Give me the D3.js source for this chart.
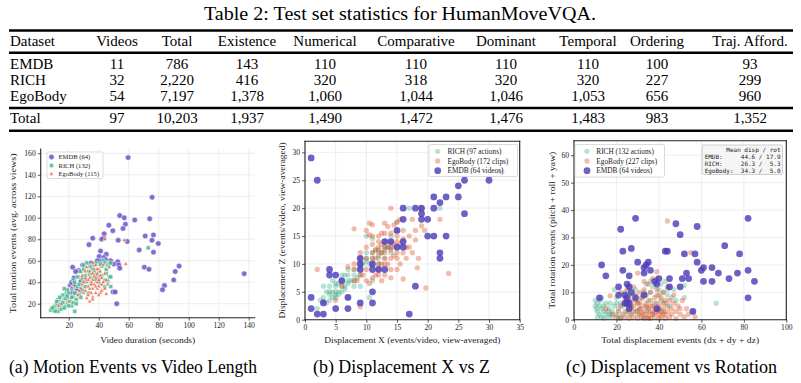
<!DOCTYPE html>
<html>
<head>
<meta charset="utf-8">
<script src="https://cdn.jsdelivr.net/npm/d3@7"></script>
<style>
body { margin: 0; background: #fff; }
svg { display: block; }
</style>
</head>
<body>
<div id="figura"></div>
<script>
// ---- tabla ----
let tituloTabla = "Table 2: Test set statistics for HumanMoveVQA.";
let columnas = ["Dataset", "Videos", "Total", "Existence", "Numerical", "Comparative", "Dominant", "Temporal", "Ordering", "Traj. Afford."];
let filas = [
    ["EMDB", "11", "786", "143", "110", "110", "110", "110", "100", "93"],
    ["RICH", "32", "2,220", "416", "320", "318", "320", "320", "227", "299"],
    ["EgoBody", "54", "7,197", "1,378", "1,060", "1,044", "1,046", "1,053", "656", "960"]
];
let filaTotal = ["Total", "97", "10,203", "1,937", "1,490", "1,472", "1,476", "1,483", "983", "1,352"];

// ---- panel (a) ----
let aTicksX = [20, 40, 60, 80, 100, 120, 140];
let aTicksY = [20, 40, 60, 80, 100, 120, 140, 160];
let aEmdb = [[59.6,156],[75.6,119],[54,102],[57,100],[64,98],[74,99],[46.7,93],[57.8,94],[56.2,90],[49.4,88],[76.5,84],[43.6,85],[36,81],[43.3,81],[42,80],[71,83],[75.5,79],[53,79],[59,78],[79.7,76],[33.5,75],[67,70],[76.5,68],[41.2,69],[40.3,64],[45,66],[43.4,63],[41.2,60],[44.5,61],[52.7,59],[50,57],[53.4,56],[54,53],[29.3,56],[22.6,54],[26.8,51],[24.6,50],[30.4,42],[28.2,41],[39.7,43],[70.4,54],[73.5,52],[93.6,55],[91,50],[90,42],[83.8,37],[82.5,33],[137,48],[21,37],[24.2,37],[22.6,33.5],[25.3,32],[28.2,32],[22,30],[49.6,31],[51,31],[52,20],[22,40],[19,31],[26,33],[39,60],[48,60],[23.5,44],[35,58]];
let aRich = [[8,14],[10,14],[12,15],[13,13],[11,18],[12,20],[14,17],[15,22],[13,24],[16,19],[17,25],[18,18],[19,21],[20,24],[21,20],[22,18],[18,28],[20,30],[23,27],[24,13],[22,34],[25,30],[26,36],[28,35],[19,33],[17,34],[23,42],[24,40],[27,38],[29,44],[30,40],[31,46],[33,50],[34,55],[35,54],[36,52],[37,56],[38,58],[40,50],[42,55],[43,60],[44,58],[45,52],[46,56],[47,45],[48,36],[44,36],[41,38],[39,47],[32,42],[28,50],[30,56],[26,45],[16,28],[14,26],[10,17],[9,16],[15,15],[16,21],[21,22],[20,18],[12,22],[18,25],[22,26],[24,30],[25,24],[27,28],[29,33],[31,36],[33,30],[35,38],[36,44],[38,42],[40,40],[42,46],[37,50],[34,47],[45,48],[46,41],[47,57],[48,58],[28,26],[19,27],[14,19],[11,13],[17,16],[23,21],[25,20],[30,52],[32,58],[38,47],[41,57],[44,42],[73,72],[48,45]];
let aEgo = [[28,34],[29,38],[30,30],[31,32],[32,25],[32,40],[33,36],[33,28],[34,22],[34,44],[35,30],[35,38],[35,48],[36,26],[36,42],[36,34],[37,52],[37,46],[37,38],[38,30],[38,44],[38,56],[39,40],[39,34],[39,48],[40,36],[40,42],[40,52],[41,30],[41,46],[42,38],[42,44],[43,40],[43,56],[44,34],[44,48],[45,42],[45,29],[46,38],[34,50],[33,42],[31,44],[30,40],[27,32],[26,28],[29,46],[31,50],[32,54],[36,58],[38,36],[40,28],[42,32],[36,24],[34,34],[44,80],[57,79],[58,57],[47,54],[15,20],[13,18],[20,22],[22,35],[35,40],[36,48],[39,52],[41,50]];

// ---- panel (b) ----
let bTicks = [0, 5, 10, 15, 20, 25, 30, 35];
let bTicksY = [0, 5, 10, 15, 20, 25, 30];
let bEmdb = [[1,29],[2,25],[1,4],[1,2],[2,1],[3,1],[4,9],[4,8],[5,8],[3,3],[5,2],[6,7],[7,4],[7,2],[9,11],[9,10],[9,9],[9,3],[11,10],[11,9],[11,5],[11,3],[12,9],[13,9],[13,14],[14,14],[15,16],[15,13],[16,20],[16,18],[16,14],[16,13],[17,1],[18,20],[18,6],[19,20],[19,19],[19,18],[20,18],[20,15],[21,22],[21,20],[21,15],[22,21],[22,12],[22,11],[23,22],[23,15],[25,24],[25,22],[26,25],[26,19],[30,25],[32,26.5]];
let bRich = [[3,4],[3,6],[3.5,5],[4,3.5],[4,4.5],[4,6],[4.5,5],[4.5,7],[5,4],[5,4.5],[5,5],[5.5,4.5],[5,6],[5.5,5],[5.5,6.5],[6,5],[6,6],[6,7],[6.5,6],[6.5,8],[7,6.5],[7,7],[7,8],[7.5,7],[8,6],[8,8],[8,9],[8.5,7.5],[9,8],[9,9],[9.5,10],[10,10.5],[10,11],[10,12],[10.5,10],[11,11],[11,12],[11.5,12.5],[12,11],[12,12],[12.5,12],[13,12.5],[13,13],[13.5,13],[14,13],[14,15],[15,13],[15,17.5],[10,15],[11,14.5],[17,20],[22,20],[10.5,4],[11,7],[2,2],[2.5,3.5],[3,3.2],[3.5,3],[4,5],[4.5,4],[6,8],[7,9],[8,7],[9,6],[12,10],[13,11],[14,12],[6.5,5.5],[5,6.5]];
let bEgo = [[2,9],[5,3.5],[7,9.5],[8,16.3],[8,7],[8.5,7],[9,2.3],[9,8],[9,12],[9.5,8],[10,16],[10,7],[10,11],[10.5,17.3],[10.5,15.2],[10.5,6.5],[11,7.5],[11,10],[11,12],[11,13.5],[11,15],[11,17],[11.5,8],[11.5,11],[11.5,12.5],[12,8],[12,10],[12,11.5],[12,12.5],[12,14],[12,15],[12.5,7],[12.5,10],[12.5,12],[12.5,13.5],[12.5,15.5],[13,8],[13,11],[13,12],[13,14],[13,15.5],[13,17.3],[13.5,10],[13.5,13],[13.5,16.7],[14,7.5],[14,9],[14,11],[14,12.5],[14,14],[14,15.5],[14,20],[14.5,11.5],[14.5,13.5],[14.5,17],[15,9],[15,11],[15,12],[15,14],[15,16],[15,17.5],[15.5,10],[15.5,13.5],[15.5,18],[16,12],[16,14.5],[16,7.3],[16.5,13],[16.5,11],[17,13],[17.5,12],[17.5,18],[18,14.3],[18,16],[18.3,9.3],[18.5,11],[19,16.8],[19,20],[19.5,16],[19.7,5.7],[22,18],[23.4,8.3],[7,4],[6,6],[8,9],[9,10],[10,9],[11,11],[12,9],[13,10],[14,13],[16,16],[17,15],[15,15],[12,13],[13,13],[10,13],[9,11],[8,10]];

// ---- panel (c) ----
let cTicksX = [0, 20, 40, 60, 80, 100];
let cTicksY = [0, 10, 20, 30, 40, 50, 60];
let cEmdb = [[29,37],[48,35],[58,34],[82,37],[22,33],[50,31],[71,27],[27,26],[23,25],[43,25],[44,25],[52,24],[57,24],[78,24],[13,20],[30,21],[35,21],[34,20],[33,19],[58,21],[61,19],[65,19],[60,18],[36,18],[15,16],[23,18],[26,16],[33,17],[53,17],[68,17],[77,17],[82,18],[51,15],[54,15],[73,15],[40,15],[45,15],[61,14],[65,14],[85,14],[38,14],[39,13],[25,13],[21,12],[26,12],[45,12],[50,12],[27,10],[12,8],[25,8],[29,8],[24,9],[21,9],[33,9],[25,6],[26,6],[24,6],[82,8],[39,4],[56,3],[26,4]];
let cRich = [[10,7],[10,5],[10.5,4],[11,6],[11,3],[12,5],[12,2],[12.5,7],[13,4],[13,1],[14,3],[14,5],[15,2],[15,6],[16,3],[16,1],[16.5,4],[17,2],[18,1],[18,3],[19,5],[20,2],[20,8],[21,4],[22,1],[22,6],[24,3],[24,10],[25,7],[26,2],[26,12],[27,5],[28,3],[28,9],[29,11],[30,6],[30,2],[31,4],[32,8],[33,1],[33,10],[34,5],[35,3],[35,7],[36,10],[37,2],[37,12],[38,6],[39,15],[39,9],[40,4],[40,11],[41,7],[41,13],[42,3],[42,10],[43,6],[43,14],[44,9],[45,5],[45,12],[46,8],[47,11],[48,7],[52,8],[52,12.5],[67,6],[19,11],[20,6],[23,5],[13,8],[17,6],[11,1],[14,0.5],[21,0.5],[34,13],[36,14],[44,11]];
let cEgo = [[15,4],[17,8.7],[18,2],[20,1],[21,3],[22,5],[22,0.5],[23,2],[24,6],[24,1],[25,3],[25,11],[26,4],[26,0.5],[27,2],[27,7],[28,5],[28,1],[29,3],[29,9],[30,0.5],[30,6],[30,17],[31,2],[31,4],[32,1],[32,8],[32,5],[33,3],[33,0.5],[33,11],[34,2],[34,6],[34,9],[35,4],[35,1],[35,13],[36,3],[36,7],[36,0.5],[37,2],[37,5],[37,15],[38,1],[38,8],[38,4],[39,3],[39,6],[39,17.5],[39,11],[40,0.5],[40,2],[40,5],[41,3],[41,8],[41,1],[42,4],[42,6],[42,10],[43,2],[43,0.5],[44,3],[44,5],[44,12],[44,36],[45,1],[45,7],[46,4],[46,2],[47,9],[48,3],[48,0.5],[49,5],[50,2],[51,7],[52,1],[53,4],[54,2],[55,24.5],[56,3],[57,1],[28,12],[26,9],[24,8],[22,10],[31,10],[33,14],[36,10],[40,9],[43,7],[47,6],[50,4],[30,3.5],[32,2.5],[34,4.5],[36,5],[38,2.5],[40,3.5],[42,2],[35,0.5],[29,7],[27,4.5],[31,6.5]];
let cStats = ["Mean disp / rot", "EMDB:     44.6 / 17.9", "RICH:     26.3 /  5.3", "EgoBody:  34.3 /  5.0"];

let leyendaA = ["EMDB (64)", "RICH (132)", "EgoBody (115)"];
let leyendaB = ["RICH (97 actions)", "EgoBody (172 clips)", "EMDB (64 videos)"];
let leyendaC = ["RICH (132 actions)", "EgoBody (227 clips)", "EMDB (64 videos)"];
let subtitulos = ["(a) Motion Events vs Video Length", "(b) Displacement X vs Z", "(c) Displacement vs Rotation"];

const serif = "Liberation Serif";

let svg = d3.select("#figura")
    .append("svg")
    .attr("width", 801)
    .attr("height", 383)
    .attr("font-family", serif);

// ---------- tabla ----------
let colCentro = [10, 117, 177, 247, 325, 416, 506, 588, 657, 750];

svg.append("text")
    .attr("x", 400).attr("y", 19.5)
    .attr("text-anchor", "middle")
    .attr("font-size", 18)
    .attr("textLength", 392).attr("lengthAdjust", "spacingAndGlyphs")
    .text(tituloTabla);

[30.5, 52.8, 108, 130.8].forEach(function (yy) {
    svg.append("line")
        .attr("x1", 9).attr("x2", 793)
        .attr("y1", yy).attr("y2", yy)
        .attr("stroke", "#000")
        .attr("stroke-width", 2.4);
});

function filaTexto(datos, yy) {
    svg.append("g")
        .selectAll("text")
        .data(datos)
        .enter()
        .append("text")
        .attr("x", (d, i) => colCentro[i])
        .attr("y", yy)
        .attr("text-anchor", (d, i) => i === 0 ? "start" : "middle")
        .attr("font-size", 15)
        .text(d => d);
}
filaTexto(columnas, 46);
filas.forEach((f, i) => filaTexto(f, 68.5 + i * 16));
filaTexto(filaTotal, 122.5);

// ---------- paneles ----------
function panel(cfg) {
    let x = d3.scaleLinear().domain(cfg.xd).range(cfg.xr);
    let y = d3.scaleLinear().domain(cfg.yd).range(cfg.yr);
    let g = svg.append("g");

    g.append("g").selectAll("line").data(cfg.xt).enter().append("line")
        .attr("x1", d => x(d)).attr("x2", d => x(d))
        .attr("y1", cfg.yr[0]).attr("y2", cfg.yr[1])
        .attr("stroke", "#e6e6e6").attr("stroke-width", 0.7);
    g.append("g").selectAll("line").data(cfg.yt).enter().append("line")
        .attr("y1", d => y(d)).attr("y2", d => y(d))
        .attr("x1", cfg.xr[0]).attr("x2", cfg.xr[1])
        .attr("stroke", "#e6e6e6").attr("stroke-width", 0.7);

    cfg.series.forEach(function (s) {
        let sym = d3.symbol().type(s.forma).size(s.tam);
        g.append("g").selectAll("path").data(s.datos).enter().append("path")
            .attr("d", sym)
            .attr("transform", d => "translate(" + x(d[0]) + "," + y(d[1]) + ")")
            .attr("fill", s.color)
            .attr("fill-opacity", s.alfa)
            .attr("stroke", s.borde || "none")
            .attr("stroke-width", s.borde ? 0.5 : 0);
    });

    let ax = g.append("g")
        .attr("transform", "translate(0," + cfg.yr[0] + ")")
        .call(d3.axisBottom(x).tickValues(cfg.xt).tickSize(3).tickPadding(2).tickSizeOuter(0));
    let ay = g.append("g")
        .attr("transform", "translate(" + cfg.xr[0] + ",0)")
        .call(d3.axisLeft(y).tickValues(cfg.yt).tickSize(3).tickPadding(2).tickSizeOuter(0));
    [ax, ay].forEach(function (a) {
        a.attr("font-family", serif).attr("font-size", 7.6);
        a.select(".domain").remove();
        a.selectAll("line").attr("stroke", "#333").attr("stroke-width", 0.8);
        a.selectAll("text").attr("fill", "#222");
    });

    // marco
    let marco = [[cfg.xr[0], cfg.yr[1], cfg.xr[0], cfg.yr[0]], [cfg.xr[0], cfg.yr[0], cfg.xr[1], cfg.yr[0]]];
    if (cfg.caja) {
        marco.push([cfg.xr[0], cfg.yr[1], cfg.xr[1], cfg.yr[1]], [cfg.xr[1], cfg.yr[1], cfg.xr[1], cfg.yr[0]]);
    }
    g.append("g").selectAll("line").data(marco).enter().append("line")
        .attr("x1", d => d[0]).attr("y1", d => d[1]).attr("x2", d => d[2]).attr("y2", d => d[3])
        .attr("stroke", "#222").attr("stroke-width", 1.1).attr("stroke-linecap", "square");

    g.append("text")
        .attr("x", (cfg.xr[0] + cfg.xr[1]) / 2).attr("y", 342.5)
        .attr("text-anchor", "middle")
        .attr("font-size", 8).attr("fill", "#222")
        .attr("textLength", cfg.txw).attr("lengthAdjust", "spacingAndGlyphs")
        .text(cfg.tx);
    g.append("text")
        .attr("transform", "translate(" + cfg.tyx + "," + (cfg.yr[0] + cfg.yr[1]) / 2 + ") rotate(-90)")
        .attr("text-anchor", "middle")
        .attr("dy", "0.35em")
        .attr("font-size", 8).attr("fill", "#222")
        .attr("textLength", cfg.tyw).attr("lengthAdjust", "spacingAndGlyphs")
        .text(cfg.ty);

    // leyenda
    let L = cfg.ley;
    g.append("rect")
        .attr("x", L.x).attr("y", L.y).attr("width", L.w).attr("height", L.h)
        .attr("rx", 1.5).attr("fill", "#fff").attr("fill-opacity", 0.85)
        .attr("stroke", "#cccccc").attr("stroke-width", 0.7);
    L.textos.forEach(function (t, i) {
        let s = cfg.series[L.orden[i]];
        g.append("path")
            .attr("d", d3.symbol().type(s.forma).size(s.tam)())
            .attr("transform", "translate(" + L.mx + "," + (L.y0 + i * L.dy) + ")")
            .attr("fill", s.color).attr("fill-opacity", s.alfa)
            .attr("stroke", s.borde || "none").attr("stroke-width", s.borde ? 0.5 : 0);
        g.append("text")
            .attr("x", L.tx).attr("y", L.y0 + i * L.dy)
            .attr("dy", "0.35em")
            .attr("font-size", L.fs).attr("fill", "#222")
            .text(t);
    });
}

panel({
    xd: [1.3, 144], xr: [40.7, 254.7],
    yd: [7, 164], yr: [317.7, 149],
    xt: aTicksX, yt: aTicksY, caja: false,
    tx: "Video duration (seconds)", txw: 95,
    ty: "Total motion events (avg. across views)", tyw: 160, tyx: 13,
    series: [
        {datos: aEmdb, forma: d3.symbolCircle, tam: 24, color: "#6655c8", alfa: 0.85, borde: "#fff"},
        {datos: aRich, forma: d3.symbolSquare, tam: 17, color: "#3fb48c", alfa: 0.8, borde: "#fff"},
        {datos: aEgo, forma: d3.symbolTriangle, tam: 8, color: "#e8603c", alfa: 0.85, borde: "#fff"}
    ],
    ley: {x: 47, y: 152, w: 56, h: 26.5, mx: 51.5, tx: 58.5, y0: 157, dy: 8.5, fs: 6.6,
          textos: leyendaA, orden: [0, 1, 2]}
});

panel({
    xd: [0, 35], xr: [305, 519.7],
    yd: [0, 32], yr: [319.7, 141.2],
    xt: bTicks, yt: bTicksY, caja: true,
    tx: "Displacement X (events/video, view-averaged)", txw: 176,
    ty: "Displacement Z (events/video, view-averaged)", tyw: 176, tyx: 282,
    series: [
        {datos: bRich, forma: d3.symbolCircle, tam: 22, color: "#2ca57d", alfa: 0.33},
        {datos: bEgo, forma: d3.symbolCircle, tam: 22, color: "#d9461a", alfa: 0.36},
        {datos: bEmdb, forma: d3.symbolCircle, tam: 36, color: "#4d3eb8", alfa: 0.82}
    ],
    ley: {x: 429, y: 144.5, w: 88.5, h: 32, mx: 437.7, tx: 447.5, y0: 151.3, dy: 9.7, fs: 7.3,
          textos: leyendaB, orden: [0, 1, 2]}
});

panel({
    xd: [0, 100], xr: [574, 786.3],
    yd: [0, 65.3], yr: [319.7, 140.7],
    xt: cTicksX, yt: cTicksY, caja: true,
    tx: "Total displacement events (dx + dy + dz)", txw: 158,
    ty: "Total rotation events (pitch + roll + yaw)", tyw: 157, tyx: 552,
    series: [
        {datos: cRich, forma: d3.symbolCircle, tam: 22, color: "#2ca57d", alfa: 0.33},
        {datos: cEgo, forma: d3.symbolCircle, tam: 22, color: "#d9461a", alfa: 0.36},
        {datos: cEmdb, forma: d3.symbolCircle, tam: 36, color: "#4d3eb8", alfa: 0.82}
    ],
    ley: {x: 575, y: 144.5, w: 89.5, h: 32.5, mx: 587, tx: 596.3, y0: 151.3, dy: 9.7, fs: 7.3,
          textos: leyendaC, orden: [0, 1, 2]}
});

// cuadro de medias
svg.append("rect")
    .attr("x", 702).attr("y", 145).attr("width", 80.5).attr("height", 29.5)
    .attr("rx", 1.5).attr("fill", "#f5f5f5").attr("stroke", "#bbbbbb").attr("stroke-width", 0.7);
svg.append("g").selectAll("text").data(cStats).enter().append("text")
    .attr("x", 780.5)
    .attr("y", (d, i) => 149.7 + i * 6.9)
    .attr("dy", "0.35em")
    .attr("text-anchor", "end")
    .attr("font-family", "DejaVu Sans Mono")
    .attr("font-size", 6)
    .style("white-space", "pre")
    .attr("fill", "#222")
    .text(d => d);

// subtitulos
let subX = [9, 313, 566], subW = [248, 177, 211];
svg.append("g").selectAll("text").data(subtitulos).enter().append("text")
    .attr("x", (d, i) => subX[i])
    .attr("y", 372.5)
    .attr("textLength", (d, i) => subW[i])
    .attr("lengthAdjust", "spacingAndGlyphs")
    .attr("font-size", 18.5)
    .text(d => d);
</script>
</body>
</html>
